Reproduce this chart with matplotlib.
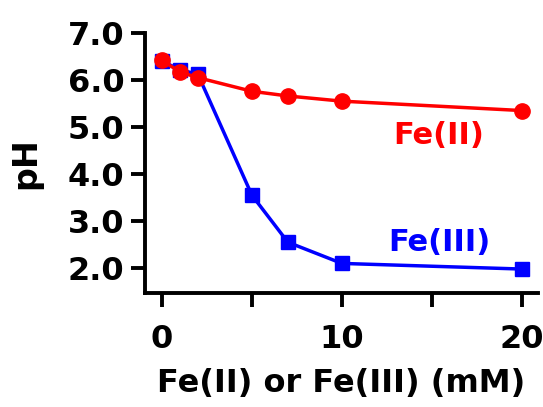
import matplotlib
matplotlib.use('Agg')
from matplotlib import pyplot as plt

conc = [0, 1, 2, 5, 7, 10, 20]
ph_fe2 = [6.42, 6.17, 6.05, 5.76, 5.66, 5.55, 5.35]
ph_fe3 = [6.40, 6.22, 6.12, 3.55, 2.55, 2.10, 1.98]
yticks = [2, 3, 4, 5, 6, 7]
xticks = [0, 5, 10, 15, 20]
xticklabels = ['0', '', '10', '', '20']

plt.rcParams['font.family'] = ['DejaVu Sans']
plt.rcParams['font.weight'] = 'bold'

fig = plt.figure(figsize=(5.43, 4.07), dpi=100)
ax = fig.add_axes([0.267, 0.280, 0.724, 0.639])

ax.plot(conc, ph_fe3, c='#0000ff', lw=2.5, marker='s', ms=10)
ax.plot(conc, ph_fe2, c='#ff0000', lw=2.5, marker='o', ms=11)

ax.text(15.4, 4.83, 'Fe(II)', color='#ff0000', fontsize=22, fontweight='bold',
        ha='center', va='center')
ax.text(15.4, 2.55, 'Fe(III)', color='#0000ff', fontsize=22, fontweight='bold',
        ha='center', va='center')

ax.set_xlim(-0.94, 20.9)
ax.set_ylim(1.47, 7.0)
ax.set_xticks(xticks)
ax.set_xticklabels(xticklabels)
ax.set_yticks(yticks)
ax.set_yticklabels(['%.1f' % v for v in yticks])

for side in ['top', 'right']:
    ax.spines[side].set_visible(False)
for side in ['left', 'bottom']:
    ax.spines[side].set_linewidth(2.8)

ax.tick_params(axis='both', which='major', labelsize=23, length=10, width=2.8)
ax.tick_params(axis='x', pad=12)
ax.tick_params(axis='y', pad=5)
ax.set_xlabel('Fe(II) or Fe(III) (mM)', fontsize=23, fontweight='bold', labelpad=10)
ax.set_ylabel('pH', fontsize=24, fontweight='bold', labelpad=18)

fig.savefig('out.png', dpi=100)
